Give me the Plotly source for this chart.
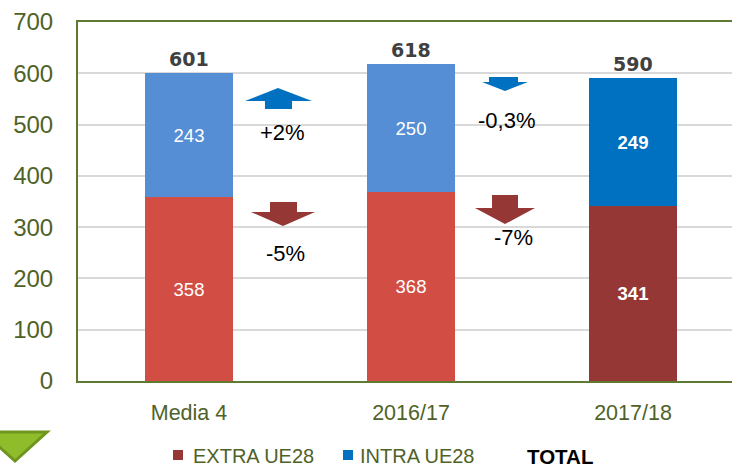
import plotly.graph_objects as go

categories = ["Media 4", "2016/17", "2017/18"]
extra_ue28 = [358, 368, 341]
intra_ue28 = [243, 250, 249]
totals = [e + i for e, i in zip(extra_ue28, intra_ue28)]
changes = ["+2%", "-5%", "-0,3%", "-7%"]
y_ticks = [0, 100, 200, 300, 400, 500, 600, 700]

W, H = 732, 467
L, R, T, B = 78, 732, 22, 381
PW, PH = R - L, B - T

def pp(xp, yp):
    return (xp - L) / PW, (B - yp) / PH

def path(points):
    s = ""
    for k, (xp, yp) in enumerate(points):
        x, y = pp(xp, yp)
        s += ("M" if k == 0 else "L") + f"{x:.5f},{y:.5f} "
    return s + "Z"

xs = list(range(len(categories)))
extra_colors = ["#d24e45", "#d24e45", "#953735"]
intra_colors = ["#558ed5", "#558ed5", "#0070c0"]

def lab(v, i):
    return f"<b>{v}</b>" if i == 2 else str(v)

fig = go.Figure()
fig.add_trace(go.Bar(
    x=xs, y=extra_ue28, name="EXTRA UE28", width=0.4,
    marker=dict(color=extra_colors, line=dict(width=0)),
    text=[lab(v, i) for i, v in enumerate(extra_ue28)],
    textposition="inside", insidetextanchor="middle", textangle=0,
    textfont=dict(family="Liberation Sans", size=18.5, color="white"),
    hoverinfo="skip",
))
fig.add_trace(go.Bar(
    x=xs, y=intra_ue28, name="INTRA UE28", width=0.4,
    marker=dict(color=intra_colors, line=dict(width=0)),
    text=[lab(v, i) for i, v in enumerate(intra_ue28)],
    textposition="inside", insidetextanchor="middle", textangle=0,
    textfont=dict(family="Liberation Sans", size=18.5, color="white"),
    hoverinfo="skip",
))

annotations = []
for i, t in enumerate(totals):
    annotations.append(dict(
        x=xs[i], y=t, xref="x", yref="y", text=f"<b>{t}</b>", showarrow=False,
        yshift=14, font=dict(family="DejaVu Sans", size=19, color="#404040"),
    ))

pct_pos = [(282, 132), (285, 253), (507, 120), (513, 237)]
for txt, (xp, yp) in zip(changes, pct_pos):
    x, y = pp(xp, yp)
    annotations.append(dict(
        x=x, y=y, xref="paper", yref="paper", text=txt, showarrow=False,
        xanchor="center", yanchor="middle",
        font=dict(family="Liberation Sans", size=22, color="black"),
    ))

# legend (custom)
leg_font = dict(family="Liberation Sans", size=20, color="#4f6228")
for txt, xp in [("EXTRA UE28", 191), ("INTRA UE28", 358)]:
    x, y = pp(xp, 456)
    annotations.append(dict(x=x, y=y, xref="paper", yref="paper", text=txt,
                            showarrow=False, xanchor="left", yanchor="middle",
                            font=leg_font))
x, y = pp(525, 456)
annotations.append(dict(x=x, y=y, xref="paper", yref="paper", text="<b>TOTAL</b>",
                        showarrow=False, xanchor="left", yanchor="middle",
                        font=dict(family="Liberation Sans", size=20.5, color="black")))

shapes = []
def add_shape(points, fill, line_color=None, lw=0):
    shapes.append(dict(type="path", xref="paper", yref="paper", path=path(points),
                       fillcolor=fill, line=dict(color=line_color or fill, width=lw),
                       layer="above"))

# arrows
add_shape([(278, 88), (312, 101), (292, 101), (292, 109), (265, 109), (265, 101), (245, 101)], "#0070c0")
add_shape([(270, 202), (297, 202), (297, 212), (315, 212), (283, 226), (251, 212), (270, 212)], "#953735")
add_shape([(489, 77), (518, 77), (518, 82), (528, 82), (505, 91), (482, 82), (489, 82)], "#0070c0")
add_shape([(492, 195), (518, 195), (518, 208), (535, 208), (505, 224), (475, 208), (492, 208)], "#953735")
# legend squares
add_shape([(173, 450), (183, 450), (183, 460), (173, 460)], "#953735")
add_shape([(343, 450), (353, 450), (353, 460), (343, 460)], "#0070c0")
# decorative green triangle
add_shape([(-17, 432), (47, 432), (15, 461)], "#8fbc2b", "#6e961f", 3)

fig.update_layout(
    width=W, height=H, autosize=False,
    margin=dict(l=L, r=W - R, t=T, b=H - B, pad=0),
    barmode="stack", bargap=0.6,
    plot_bgcolor="white", paper_bgcolor="white",
    showlegend=False,
    annotations=annotations, shapes=shapes,
    uniformtext=dict(mode=False),
)
fig.update_xaxes(
    range=[-0.5, 2.446], tickvals=xs, ticktext=categories,
    showline=True, linecolor="#5f7a30", linewidth=2, mirror=True,
    showgrid=False, ticks="", ticklabelstandoff=11,
    tickfont=dict(family="Liberation Sans", size=21.5, color="#4f6228"),
    fixedrange=True,
)
fig.update_yaxes(
    range=[0, 700], tickvals=y_ticks,
    showline=True, linecolor="#5f7a30", linewidth=2, mirror=False,
    showgrid=True, gridcolor="#d9d9d9", gridwidth=2,
    zeroline=False, ticks="", ticklabelstandoff=18,
    tickfont=dict(family="Liberation Sans", size=24, color="#4f6228"),
    fixedrange=True,
)

fig.write_html(
    "out.html",
    config={"displayModeBar": False},
    post_script="document.body.style.margin='0px';document.body.style.overflow='hidden';",
)
